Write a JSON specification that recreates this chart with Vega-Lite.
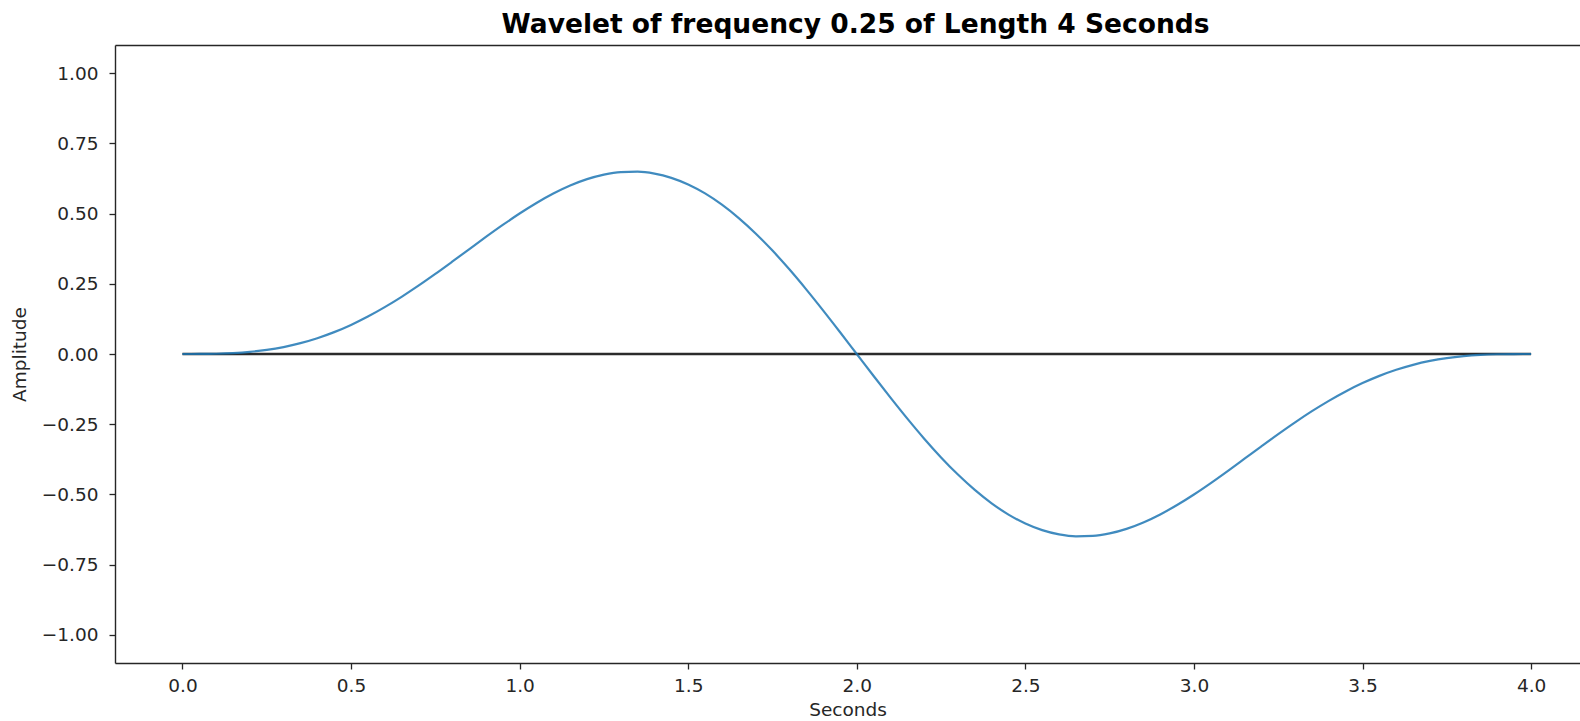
{
  "$schema": "https://vega.github.io/schema/vega-lite/v6.json",
  "autosize": {"type": "none"},
  "width": 1465,
  "height": 618,
  "padding": {"left": 115, "top": 45, "right": 0, "bottom": 58},
  "background": "white",
  "config": {
    "font": "DejaVu Sans",
    "view": {"stroke": null},
    "axis": {
      "grid": false,
      "domain": true,
      "domainColor": "#262626",
      "domainWidth": 1.4,
      "tickColor": "#262626",
      "tickSize": 6,
      "tickWidth": 1.3,
      "labelColor": "#262626",
      "labelFont": "DejaVu Sans",
      "labelFontSize": 18.5,
      "titleFont": "DejaVu Sans",
      "titleFontSize": 18.5,
      "titleFontWeight": "normal",
      "titleColor": "#262626"
    }
  },
  "title": {
    "text": "Wavelet of frequency 0.25 of Length 4 Seconds",
    "font": "DejaVu Sans",
    "fontSize": 26.5,
    "fontWeight": "bold",
    "color": "black",
    "offset": 7,
    "dx": 8,
    "anchor": "middle"
  },
  "datasets": {
    "zero": [{"t": 0, "y": 0}, {"t": 4, "y": 0}],
    "wave": [
      {"t": 0.0, "y": 0.0}, {"t": 0.05, "y": 0.000121}, {"t": 0.1, "y": 0.000963}, {"t": 0.15, "y": 0.003225},
      {"t": 0.2, "y": 0.007562}, {"t": 0.25, "y": 0.014565}, {"t": 0.3, "y": 0.024741}, {"t": 0.35, "y": 0.038498},
      {"t": 0.4, "y": 0.056128}, {"t": 0.45, "y": 0.077802}, {"t": 0.5, "y": 0.103553}, {"t": 0.55, "y": 0.133281},
      {"t": 0.6, "y": 0.166745}, {"t": 0.65, "y": 0.203568}, {"t": 0.7, "y": 0.243249}, {"t": 0.75, "y": 0.285163},
      {"t": 0.8, "y": 0.328582}, {"t": 0.85, "y": 0.372687}, {"t": 0.9, "y": 0.41659}, {"t": 0.95, "y": 0.45935},
      {"t": 1.0, "y": 0.5}, {"t": 1.05, "y": 0.537567}, {"t": 1.1, "y": 0.571098}, {"t": 1.15, "y": 0.599682},
      {"t": 1.2, "y": 0.622475}, {"t": 1.25, "y": 0.638718}, {"t": 1.3, "y": 0.647758}, {"t": 1.35, "y": 0.649072},
      {"t": 1.4, "y": 0.642278}, {"t": 1.45, "y": 0.627125}, {"t": 1.5, "y": 0.603553}, {"t": 1.55, "y": 0.571646},
      {"t": 1.6, "y": 0.531657}, {"t": 1.65, "y": 0.483999}, {"t": 1.7, "y": 0.429254}, {"t": 1.75, "y": 0.368118},
      {"t": 1.8, "y": 0.301455}, {"t": 1.85, "y": 0.23022}, {"t": 1.9, "y": 0.155471}, {"t": 1.95, "y": 0.078338},
      {"t": 2.0, "y": 0.0},
      {"t": 2.05, "y": -0.078338}, {"t": 2.1, "y": -0.155471}, {"t": 2.15, "y": -0.23022}, {"t": 2.2, "y": -0.301455},
      {"t": 2.25, "y": -0.368118}, {"t": 2.3, "y": -0.429254}, {"t": 2.35, "y": -0.483999}, {"t": 2.4, "y": -0.531657},
      {"t": 2.45, "y": -0.571646}, {"t": 2.5, "y": -0.603553}, {"t": 2.55, "y": -0.627125}, {"t": 2.6, "y": -0.642278},
      {"t": 2.65, "y": -0.649072}, {"t": 2.7, "y": -0.647758}, {"t": 2.75, "y": -0.638718}, {"t": 2.8, "y": -0.622475},
      {"t": 2.85, "y": -0.599682}, {"t": 2.9, "y": -0.571098}, {"t": 2.95, "y": -0.537567}, {"t": 3.0, "y": -0.5},
      {"t": 3.05, "y": -0.45935}, {"t": 3.1, "y": -0.41659}, {"t": 3.15, "y": -0.372687}, {"t": 3.2, "y": -0.328582},
      {"t": 3.25, "y": -0.285163}, {"t": 3.3, "y": -0.243249}, {"t": 3.35, "y": -0.203568}, {"t": 3.4, "y": -0.166745},
      {"t": 3.45, "y": -0.133281}, {"t": 3.5, "y": -0.103553}, {"t": 3.55, "y": -0.077802}, {"t": 3.6, "y": -0.056128},
      {"t": 3.65, "y": -0.038498}, {"t": 3.7, "y": -0.024741}, {"t": 3.75, "y": -0.014565}, {"t": 3.8, "y": -0.007562},
      {"t": 3.85, "y": -0.003225}, {"t": 3.9, "y": -0.000963}, {"t": 3.95, "y": -0.000121}, {"t": 4.0, "y": 0.0}
    ]
  },
  "layer": [
    {
      "data": {"name": "zero"},
      "mark": {"type": "line", "color": "#2b2b2b", "strokeWidth": 2.4},
      "encoding": {
        "x": {
          "field": "t", "type": "quantitative",
          "scale": {"domain": [-0.2, 4.145], "nice": false, "zero": false},
          "axis": {"title": "Seconds", "orient": "bottom", "values": [0, 0.5, 1, 1.5, 2, 2.5, 3, 3.5, 4], "format": ".1f", "labelPadding": 7, "titlePadding": 6}
        },
        "y": {
          "field": "y", "type": "quantitative",
          "scale": {"domain": [-1.1, 1.1], "nice": false, "zero": false},
          "axis": {"title": "Amplitude", "values": [-1, -0.75, -0.5, -0.25, 0, 0.25, 0.5, 0.75, 1], "format": ".2f", "labelPadding": 11, "titlePadding": 12}
        }
      }
    },
    {
      "data": {"name": "wave"},
      "mark": {"type": "line", "color": "#1f77b4", "opacity": 0.85, "strokeWidth": 2.2, "interpolate": "monotone"},
      "encoding": {
        "x": {
          "field": "t", "type": "quantitative",
          "axis": {"orient": "top", "labels": false, "ticks": false, "title": null, "domain": true}
        },
        "y": {"field": "y", "type": "quantitative"}
      }
    }
  ],
  "resolve": {"axis": {"x": "independent"}}
}
